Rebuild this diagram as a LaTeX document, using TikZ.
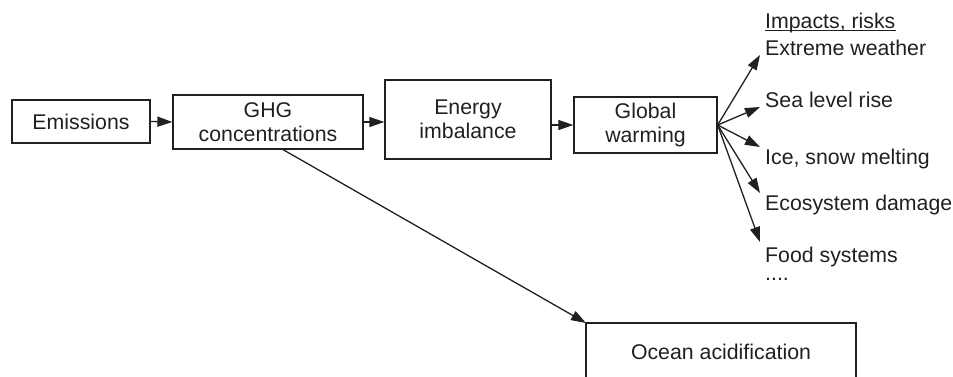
\documentclass[tikz,border=0pt]{standalone}
\usepackage{fontspec}
\setmainfont{Liberation Sans}
\usetikzlibrary{arrows.meta}
\definecolor{ink}{HTML}{231F20}
\begin{document}
\begin{tikzpicture}[x=1pt,y=-1pt,
  txt/.style={text=ink,font=\fontsize{21.3}{24}\selectfont},
  box/.style={txt,draw=ink,line width=1.3pt,inner sep=0pt,align=center},
  lbl/.style={txt,anchor=base west,inner sep=0pt},
  arr/.style={draw=ink,line width=1.3pt,-{Triangle[length=15pt,width=10pt]}}]
\useasboundingbox (0,0) rectangle (953,376);
\node[box,minimum width=138pt,minimum height=43pt] (em) at (81,121.5) {Emissions};
\node[box,minimum width=190pt,minimum height=54pt] (ghg) at (268,122) {GHG\\concentrations};
\node[box,minimum width=166pt,minimum height=79pt] (en) at (468,119.5) {Energy\\imbalance};
\node[box,minimum width=143pt,minimum height=56pt] (gw) at (645.5,125) {Global\\warming};
\draw[draw=ink,line width=1.3pt] (586,400) -- (586,323) -- (856,323) -- (856,400);
\node[txt,inner sep=0pt] (oa) at (721,352) {Ocean acidification};
\coordinate (oatl) at (586,323);
\draw[arr] (em.east) -- (ghg.west);
\draw[arr] (ghg.east) -- (ghg.east -| en.west);
\draw[arr] (en.east |- gw.west) -- (gw.west);
\draw[arr] (282,149) -- (oatl);
\node[lbl] (imp) at (765,28) {Impacts, risks};
\draw[ink,line width=0.9pt] ([yshift=-2.5pt]imp.base west) -- ([yshift=-2.5pt]imp.base east);
\node[lbl] (ew) at (765,55) {Extreme weather};
\node[lbl] (sl) at (765,107) {Sea level rise};
\node[lbl] (ice) at (765,164) {Ice, snow melting};
\node[lbl] (eco) at (765,210) {Ecosystem damage};
\node[lbl,align=left] (food) at (765,280) {Food systems\\[-6pt]....};
\coordinate (o) at (gw.east);
\coordinate (t1) at (760,55);
\coordinate (t2) at (760,107);
\coordinate (t3) at (760,147);
\coordinate (t4) at (760,193);
\coordinate (t5) at (760,242);
\foreach \t in {t1,t2,t3,t4,t5} \draw[arr] (o) -- (\t);
\end{tikzpicture}
\end{document}
